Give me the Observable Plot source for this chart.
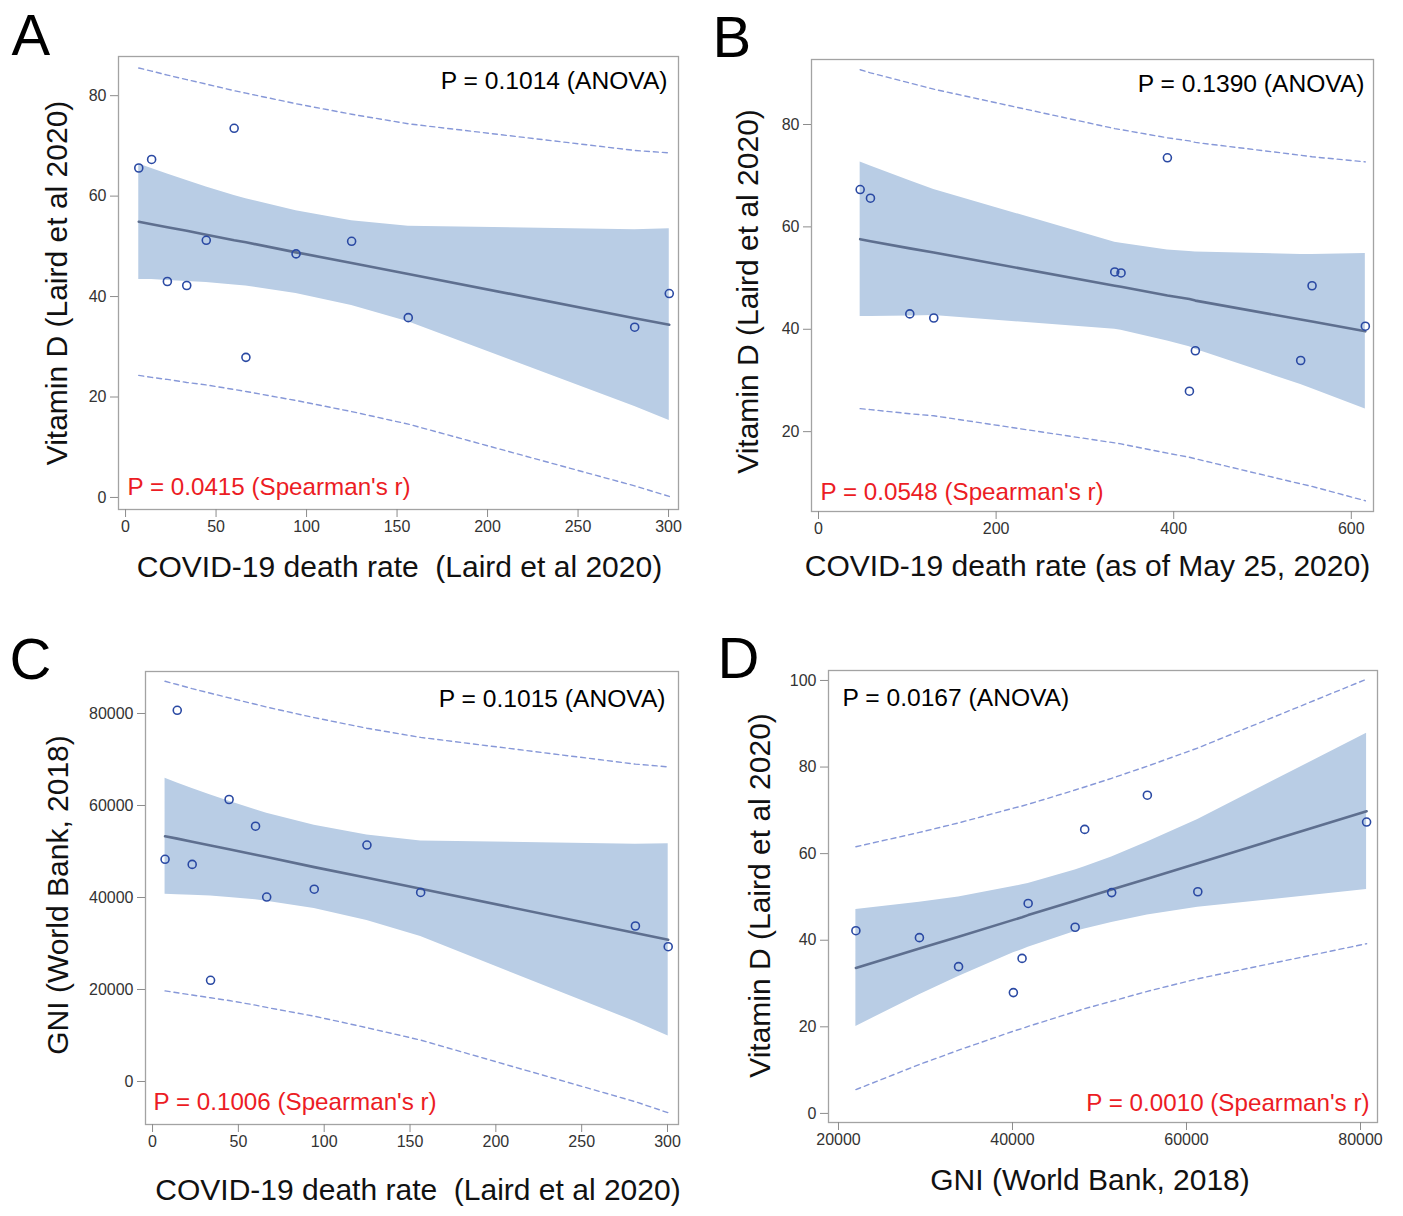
<!DOCTYPE html>
<html>
<head>
<meta charset="utf-8">
<script src="https://cdn.jsdelivr.net/npm/d3@7"></script>
<script src="https://cdn.jsdelivr.net/npm/@observablehq/plot@0.6"></script>
<style>
  html, body { margin: 0; padding: 0; background: #fff; }
  #root { position: relative; width: 1403px; height: 1216px; background: #fff; overflow: hidden; }
  #root > svg { position: absolute; }
</style>
</head>
<body>
<div id="root"></div>
<script>
// ---- Data (one entry per country, same order in every array) ----
const deathRateLaird = [7.3, 14.4, 23.1, 33.8, 44.6, 60.0, 66.5, 94.2, 124.9, 156.2, 281.3, 300.4];
const deathRateMay25 = [58.5, 46.9, 102.8, 129.8, 333.6, 392.9, 417.7, 555.8, 340.7, 424.4, 543.0, 615.8];
const vitaminD       = [65.6, 67.3, 43.0, 42.2, 51.2, 73.5, 27.9, 48.5, 51.0, 35.8, 33.9, 40.6];
const gni            = [48300, 80700, 47200, 22000, 61300, 55500, 40100, 41800, 51400, 41100, 33800, 29300];

// Panel A: regression fit, 95% confidence band, 95% prediction limits (read at each x)
const fitA  = [54.9, 54.4, 53.8, 53.1, 52.3, 51.2, 50.8, 48.8, 46.7, 44.5, 35.7, 34.4];
const ciLoA = [43.4, 43.4, 43.2, 43.0, 42.8, 42.3, 42.1, 40.6, 38.2, 35.0, 18.1, 15.3];
const ciHiA = [66.4, 65.5, 64.4, 63.1, 61.8, 60.1, 59.5, 57.1, 55.1, 54.0, 53.3, 53.5];
const piLoA = [24.3, 23.9, 23.5, 22.9, 22.4, 21.5, 21.1, 19.3, 17.1, 14.6, 2.3, 0.2];
const piHiA = [85.5, 84.9, 84.1, 83.2, 82.3, 81.0, 80.5, 78.4, 76.3, 74.4, 69.1, 68.6];

// Panel B
const fitB  = [57.2, 57.6, 55.8, 55.0, 48.5, 46.6, 45.9, 41.5, 48.3, 45.6, 41.9, 39.6];
const ciLoB = [42.5, 42.5, 42.6, 42.7, 40.0, 37.7, 36.6, 28.4, 39.8, 36.1, 29.2, 24.4];
const ciHiB = [71.9, 72.7, 69.0, 67.3, 57.0, 55.5, 55.2, 54.6, 56.8, 55.1, 54.6, 54.8];
const piLoB = [24.3, 24.5, 23.5, 23.1, 17.8, 15.8, 15.0, 9.3, 17.6, 14.7, 9.8, 6.5];
const piHiB = [90.1, 90.7, 88.1, 86.9, 79.2, 77.4, 76.8, 73.7, 79.0, 76.5, 74.0, 72.7];

// Panel C
const fitC  = [53300, 52800, 52100, 51300, 50500, 49300, 48800, 46600, 44300, 41900, 32300, 30800];
const ciLoC = [40700, 40600, 40500, 40300, 40000, 39500, 39200, 37600, 35000, 31500, 13000, 9900];
const ciHiC = [65900, 64900, 63700, 62300, 60900, 59100, 58300, 55700, 53600, 52300, 51600, 51700];
const piLoC = [19700, 19300, 18800, 18200, 17600, 16600, 16100, 14200, 11700, 9000, -4400, -6800];
const piHiC = [87000, 86300, 85400, 84400, 83400, 82000, 81400, 79100, 76800, 74800, 69000, 68400];

// Panel D
const fitD  = [49.8, 69.8, 49.1, 33.6, 57.8, 54.2, 44.7, 45.8, 51.7, 45.3, 40.8, 38.1];
const ciLoD = [42.6, 51.7, 42.0, 20.1, 47.6, 45.8, 37.1, 38.4, 44.1, 37.8, 31.6, 27.4];
const ciHiD = [57.0, 87.8, 56.2, 47.1, 67.9, 62.7, 52.4, 53.1, 59.2, 52.8, 50.0, 48.8];
const piLoD = [24.2, 39.2, 23.5, 5.5, 31.1, 28.2, 19.0, 20.1, 25.9, 19.6, 14.6, 11.3];
const piHiD = [75.4, 100.3, 74.7, 61.6, 84.4, 80.2, 70.5, 71.4, 77.4, 71.0, 67.1, 64.9];

// Tick values
const ticksDeathLaird = [0, 50, 100, 150, 200, 250, 300];
const ticksDeathMay25 = [0, 200, 400, 600];
const ticksVitA = [0, 20, 40, 60, 80];
const ticksVitB = [20, 40, 60, 80];
const ticksGniY = [0, 20000, 40000, 60000, 80000];
const ticksGniX = [20000, 40000, 60000, 80000];
const ticksVitD = [0, 20, 40, 60, 80, 100];

// Texts
const panelLetters = ["A", "B", "C", "D"];
const xLabels = ["COVID-19 death rate  (Laird et al 2020)", "COVID-19 death rate (as of May 25, 2020)",
                 "COVID-19 death rate  (Laird et al 2020)", "GNI (World Bank, 2018)"];
const yLabels = ["Vitamin D (Laird et al 2020)", "Vitamin D (Laird et al 2020)",
                 "GNI (World Bank, 2018)", "Vitamin D (Laird et al 2020)"];
const anovaTexts = ["P = 0.1014 (ANOVA)", "P = 0.1390 (ANOVA)", "P = 0.1015 (ANOVA)", "P = 0.0167 (ANOVA)"];
const spearmanTexts = ["P = 0.0415 (Spearman's r)", "P = 0.0548 (Spearman's r)", "P = 0.1006 (Spearman's r)", "P = 0.0010 (Spearman's r)"];

// ---- Rendering ----
const root = document.getElementById("root");
const FONT = "'Liberation Sans', Arial, Helvetica, sans-serif";
const BAND = "#b9cde5", FITC = "#5e6f8f", DASH = "#8798d8", DOT = "#2a49a3", RED = "#ec1c24";

function panel(c) {
  const rows = c.x.map((x, i) => ({
    x, y: c.y[i], fit: c.fit[i], ciLo: c.ciLo[i], ciHi: c.ciHi[i], piLo: c.piLo[i], piHi: c.piHi[i]
  })).sort((a, b) => a.x - b.x);
  const fmt = d => String(d);
  const svg = Plot.plot({
    width: c.width, height: c.height,
    marginLeft: c.ml, marginRight: c.mr, marginTop: c.mt, marginBottom: c.mb,
    style: {fontFamily: FONT, background: "transparent", overflow: "visible", color: "#000"},
    x: {domain: c.xDomain, label: null},
    y: {domain: c.yDomain, label: null},
    marks: [
      Plot.areaY(rows, {x: "x", y1: "ciLo", y2: "ciHi", fill: BAND, fillOpacity: 1}),
      Plot.lineY(rows, {x: "x", y: "piHi", stroke: DASH, strokeWidth: 1.4, strokeDasharray: "5,4"}),
      Plot.lineY(rows, {x: "x", y: "piLo", stroke: DASH, strokeWidth: 1.4, strokeDasharray: "5,4"}),
      Plot.lineY(rows, {x: "x", y: "fit", stroke: FITC, strokeWidth: 2.6}),
      Plot.dot(rows, {x: "x", y: "y", r: 4, stroke: DOT, strokeWidth: 1.6, fill: "none"}),
      Plot.frame({stroke: "#a3a3a3", strokeWidth: 1.3}),
      Plot.axisX(c.xTicks, {anchor: "bottom", tickSize: 8, tickPadding: 3, fontSize: 16,
        tickFormat: fmt, label: null, stroke: "#8c8c8c", fill: "#333"}),
      Plot.axisY(c.yTicks, {anchor: "left", tickSize: 8, tickPadding: 4, fontSize: 16,
        tickFormat: fmt, label: null, stroke: "#8c8c8c", fill: "#333"}),
      Plot.text([c.xLabel], {text: d => d, frameAnchor: "bottom", textAnchor: "middle", lineAnchor: "middle",
        dx: c.xlDx, dy: c.xlDy, fontSize: 30, fill: "#111"}),
      Plot.text([c.yLabel], {text: d => d, frameAnchor: "left", textAnchor: "middle", lineAnchor: "middle",
        rotate: -90, dx: c.ylDx, dy: c.ylDy, fontSize: 30, fill: "#111"}),
      Plot.text([c.anova], {text: d => d, frameAnchor: c.anovaAnchor, lineAnchor: "middle",
        textAnchor: c.anovaAnchor === "top-right" ? "end" : "start",
        dx: c.anDx, dy: c.anDy, fontSize: 24.6, fill: "#000"}),
      Plot.text([c.spearman], {text: d => d, frameAnchor: c.spAnchor, lineAnchor: "middle",
        textAnchor: c.spAnchor === "bottom-right" ? "end" : "start",
        dx: c.spDx, dy: c.spDy, fontSize: 24.2, fill: RED}),
      Plot.text([c.letter], {text: d => d, frameAnchor: "top-left", textAnchor: "start", lineAnchor: "middle",
        dx: c.letDx, dy: c.letDy, fontSize: 58, fill: "#000"})
    ]
  });
  svg.style.left = c.left + "px";
  svg.style.top = c.top + "px";
  root.appendChild(svg);
}

panel({
  left: 0, top: 0, width: 700, height: 610, ml: 118, mr: 22, mt: 56, mb: 101,
  x: deathRateLaird, y: vitaminD, fit: fitA, ciLo: ciLoA, ciHi: ciHiA, piLo: piLoA, piHi: piHiA,
  xDomain: [-3.9, 305.5], yDomain: [-2.4, 87.8], xTicks: ticksDeathLaird, yTicks: ticksVitA,
  xLabel: xLabels[0], yLabel: yLabels[0], xlDx: 1, xlDy: 58, ylDx: -61, ylDy: 0,
  anova: anovaTexts[0], anovaAnchor: "top-right", anDx: -11, anDy: 25,
  spearman: spearmanTexts[0], spAnchor: "bottom-left", spDx: 9, spDy: -22,
  letter: panelLetters[0], letDx: -107, letDy: -20
});
panel({
  left: 700, top: 0, width: 703, height: 610, ml: 111, mr: 30, mt: 59, mb: 99,
  x: deathRateMay25, y: vitaminD, fit: fitB, ciLo: ciLoB, ciHi: ciHiB, piLo: piLoB, piHi: piHiB,
  xDomain: [-7.9, 625], yDomain: [4.4, 92.7], xTicks: ticksDeathMay25, yTicks: ticksVitB,
  xLabel: xLabels[1], yLabel: yLabels[1], xlDx: -5, xlDy: 55, ylDx: -63, ylDy: 6,
  anova: anovaTexts[1], anovaAnchor: "top-right", anDx: -9, anDy: 25,
  spearman: spearmanTexts[1], spAnchor: "bottom-left", spDx: 9, spDy: -19,
  letter: panelLetters[1], letDx: -99, letDy: -21
});
panel({
  left: 0, top: 610, width: 700, height: 606, ml: 145, mr: 22, mt: 61, mb: 92,
  x: deathRateLaird, y: gni, fit: fitC, ciLo: ciLoC, ciHi: ciHiC, piLo: piLoC, piHi: piHiC,
  xDomain: [-4.1, 306.4], yDomain: [-9348, 89130], xTicks: ticksDeathLaird, yTicks: ticksGniY,
  xLabel: xLabels[2], yLabel: yLabels[2], xlDx: 6, xlDy: 66, ylDx: -87, ylDy: -3,
  anova: anovaTexts[2], anovaAnchor: "top-right", anDx: -13, anDy: 28,
  spearman: spearmanTexts[2], spAnchor: "bottom-left", spDx: 8, spDy: -22,
  letter: panelLetters[2], letDx: -136, letDy: -11
});
panel({
  left: 700, top: 610, width: 703, height: 606, ml: 128, mr: 26, mt: 60, mb: 94,
  x: gni, y: vitaminD, fit: fitD, ciLo: ciLoD, ciHi: ciHiD, piLo: piLoD, piHi: piHiD,
  xDomain: [18851, 81954], yDomain: [-2.1, 102.3], xTicks: ticksGniX, yTicks: ticksVitD,
  xLabel: xLabels[3], yLabel: yLabels[3], xlDx: -13, xlDy: 58, ylDx: -68, ylDy: -1,
  anova: anovaTexts[3], anovaAnchor: "top-left", anDx: 14, anDy: 28,
  spearman: spearmanTexts[3], spAnchor: "bottom-right", spDx: -8, spDy: -19,
  letter: panelLetters[3], letDx: -111, letDy: -11
});
</script>
</body>
</html>
